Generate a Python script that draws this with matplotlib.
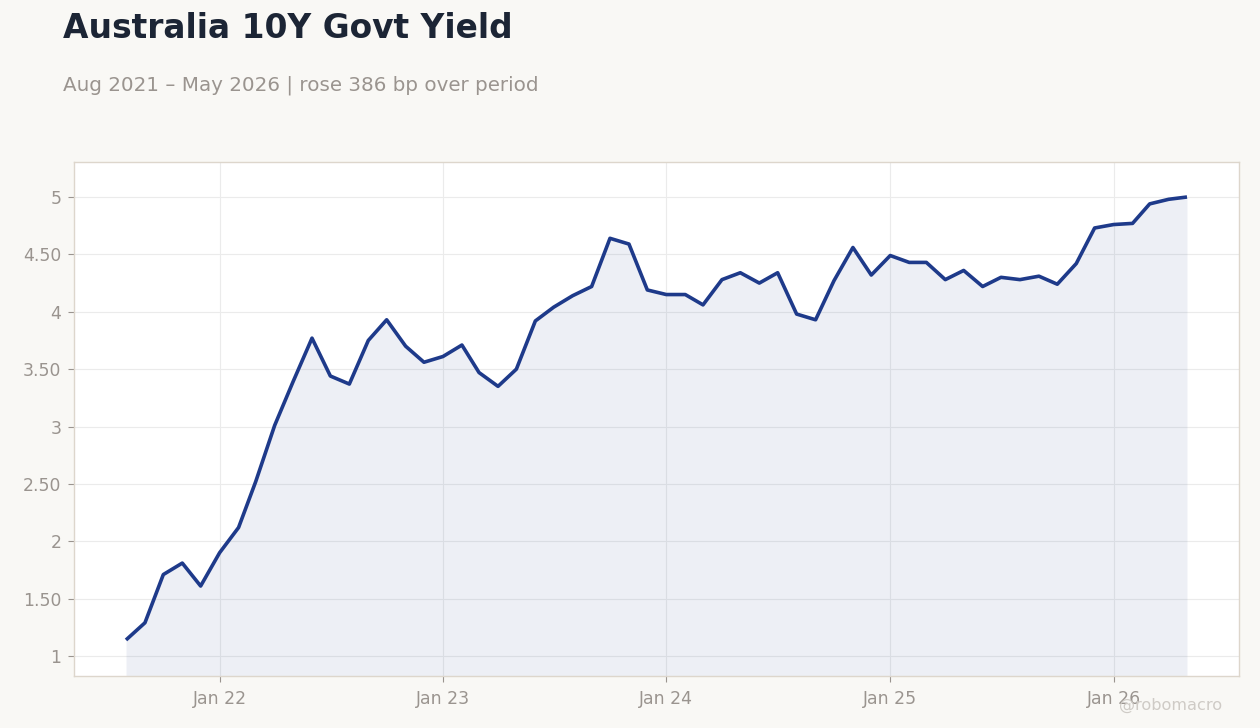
import matplotlib
matplotlib.use("Agg")
import matplotlib.pyplot as plt
import matplotlib.dates as mdates
from matplotlib.ticker import FuncFormatter, FixedLocator
import pandas as pd
import numpy as np

dates = pd.date_range("2021-08-01", "2026-05-01", freq="MS")
yields = [1.14, 1.29, 1.71, 1.81, 1.61, 1.90, 2.12, 2.52, 3.01, 3.39, 3.77, 3.44,
          3.37, 3.75, 3.93, 3.70, 3.56, 3.61, 3.71, 3.47, 3.35, 3.50, 3.92, 4.04,
          4.14, 4.22, 4.64, 4.59, 4.19, 4.15, 4.15, 4.06, 4.28, 4.34, 4.25, 4.34,
          3.98, 3.93, 4.27, 4.56, 4.32, 4.49, 4.43, 4.43, 4.28, 4.36, 4.22, 4.30,
          4.28, 4.31, 4.24, 4.42, 4.73, 4.76, 4.77, 4.94, 4.98, 5.00]
y_ticks = [1, 1.5, 2, 2.5, 3, 3.5, 4, 4.5, 5]
x_tick_dates = pd.to_datetime(["2022-01-01", "2023-01-01", "2024-01-01", "2025-01-01", "2026-01-01"])
x_tick_labels = ["Jan 22", "Jan 23", "Jan 24", "Jan 25", "Jan 26"]

title = "Australia 10Y Govt Yield"
subtitle = "Aug 2021 – May 2026 | rose 386 bp over period"

BG = "#f9f8f5"
LINE = "#1e3a8a"
GREY = "#9a948f"

fig = plt.figure(figsize=(12.6, 7.28), dpi=100, facecolor=BG)
ax = fig.add_axes([74/1260, 1 - 676/728, (1239-74)/1260, (676-162)/728])
ax.set_facecolor("white")

ymin, ymax = 0.826, 5.305
ax.fill_between(dates, yields, ymin, color="#1e3a8a", alpha=0.08, linewidth=0, zorder=1)
ax.plot(dates, yields, color=LINE, linewidth=2.6, zorder=3, solid_capstyle="butt")

span = dates[-1] - dates[0]
pad = span * 0.049
ax.set_xlim(dates[0] - pad, dates[-1] + pad)
ax.set_ylim(ymin, ymax)

ax.xaxis.set_major_locator(FixedLocator(mdates.date2num(x_tick_dates)))
ax.set_xticklabels(x_tick_labels)
ax.set_yticks(y_ticks)

def fmt(v, pos):
    if abs(v - round(v)) < 1e-9:
        return f"{int(round(v))}"
    return f"{v:.2f}"
ax.yaxis.set_major_formatter(FuncFormatter(fmt))

ax.grid(True, color="#ebebeb", linewidth=0.8, zorder=0)
ax.set_axisbelow(True)
for s in ax.spines.values():
    s.set_color("#ddd6cc")
    s.set_linewidth(1.0)
ax.tick_params(axis="both", colors=GREY, labelsize=12.4, length=4, width=0.8, pad=5)
ax.tick_params(axis="x", pad=6)

fig.text(63/1260, 1 - 29/728, title, fontsize=23.7, fontweight="bold", color="#1c2535",
         ha="left", va="center")
fig.text(63/1260, 1 - 85/728, subtitle, fontsize=14.3, color=GREY, ha="left", va="center")
fig.text(1222/1260, 1 - 705/728, "@robomacro", fontsize=11.6, color="#cfcbc6",
         ha="right", va="center")

fig.savefig("out.png", dpi=100, facecolor=BG)
